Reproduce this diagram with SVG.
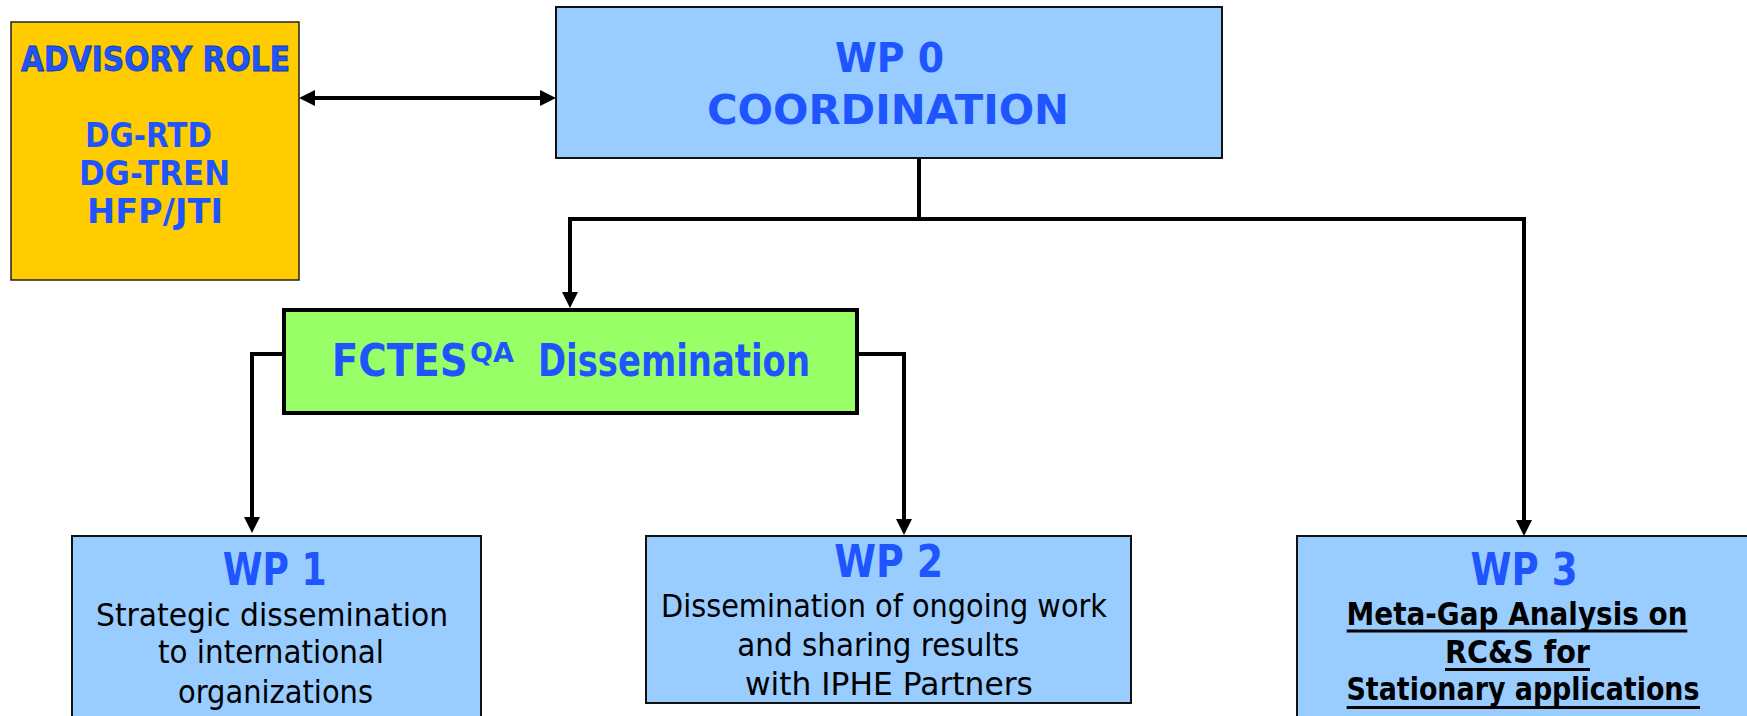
<svg xmlns="http://www.w3.org/2000/svg" width="1747" height="716" viewBox="0 0 1747 716">
<style>
.box{stroke:#111;stroke-width:2}
.blue{fill:#99CCFF}
.t{font-family:"DejaVu Sans","Liberation Sans",sans-serif}
.hb{font-weight:bold;fill:#1F55FF}
.adv{font-weight:bold;fill:#1F55FF;stroke:#1538a8;stroke-width:0.8;font-size:33px}
.body{fill:#000;font-size:32px}
.bb{fill:#000;font-size:32px;font-weight:bold}
.c{fill:none;stroke:#000;stroke-width:4}
.ul{stroke:#000;stroke-width:3}
</style>
<defs>
<marker id="ah" markerUnits="userSpaceOnUse" viewBox="0 0 16 16" markerWidth="16" markerHeight="16" refX="6" refY="8" orient="auto-start-reverse">
<path d="M0,0 L16,8 L0,16 z" fill="#000"/>
</marker>
</defs>
<rect width="1747" height="716" fill="#fff"/>
<g id="connectors">
<path class="c" d="M309,98 H546" marker-start="url(#ah)" marker-end="url(#ah)"/>
<path class="c" d="M919,158 V219"/>
<path class="c" d="M570,219 H1524"/>
<path class="c" d="M570,217 V298" marker-end="url(#ah)"/>
<path class="c" d="M1524,217 V526" marker-end="url(#ah)"/>
<path class="c" d="M283,354 H252 V523" marker-end="url(#ah)"/>
<path class="c" d="M858,354 H904 V525" marker-end="url(#ah)"/>
</g>
<g id="advisory">
<rect x="11" y="22" width="288" height="258" fill="#FFCC00" stroke="#222" stroke-width="1.5"/>
<text class="t adv" x="155.5" y="71" text-anchor="middle" textLength="269" lengthAdjust="spacingAndGlyphs">ADVISORY ROLE</text>
<text class="t hb" font-size="33" x="148.5" y="147" text-anchor="middle" textLength="127" lengthAdjust="spacingAndGlyphs">DG-RTD</text>
<text class="t hb" font-size="33" x="154.5" y="185" text-anchor="middle" textLength="151" lengthAdjust="spacingAndGlyphs">DG-TREN</text>
<text class="t hb" font-size="33" x="155" y="223" text-anchor="middle" textLength="136" lengthAdjust="spacingAndGlyphs">HFP/JTI</text>
</g>
<g id="wp0">
<rect class="box blue" x="556" y="7" width="666" height="151"/>
<text class="t hb" font-size="40" x="889.5" y="72" text-anchor="middle" textLength="109" lengthAdjust="spacingAndGlyphs">WP 0</text>
<text class="t hb" font-size="40" x="888" y="124" text-anchor="middle" textLength="362" lengthAdjust="spacingAndGlyphs">COORDINATION</text>
</g>
<g id="fctes">
<rect x="284" y="310" width="573" height="103" fill="#99FF66" stroke="#000" stroke-width="4"/>
<text class="t hb" font-size="44" x="331.7" y="376" textLength="136" lengthAdjust="spacingAndGlyphs">FCTES</text>
<text class="t hb" font-size="26" x="470" y="362" textLength="44" lengthAdjust="spacingAndGlyphs">QA</text>
<text class="t hb" font-size="44" x="538" y="376" textLength="272" lengthAdjust="spacingAndGlyphs">Dissemination</text>
</g>
<g id="wp1">
<rect class="box blue" x="72" y="536" width="409" height="200"/>
<text class="t hb" font-size="44" x="274.7" y="585" text-anchor="middle" textLength="104" lengthAdjust="spacingAndGlyphs">WP 1</text>
<text class="t body" x="272" y="626" text-anchor="middle" textLength="352" lengthAdjust="spacingAndGlyphs">Strategic dissemination</text>
<text class="t body" x="271" y="663" text-anchor="middle" textLength="226" lengthAdjust="spacingAndGlyphs">to international</text>
<text class="t body" x="275.5" y="702.5" text-anchor="middle" textLength="195" lengthAdjust="spacingAndGlyphs">organizations</text>
</g>
<g id="wp2">
<rect class="box blue" x="646" y="536" width="485" height="167"/>
<text class="t hb" font-size="44" x="888.7" y="577" text-anchor="middle" textLength="109" lengthAdjust="spacingAndGlyphs">WP 2</text>
<text class="t body" x="884" y="616.5" text-anchor="middle" textLength="446" lengthAdjust="spacingAndGlyphs">Dissemination of ongoing work</text>
<text class="t body" x="878.3" y="655.5" text-anchor="middle" textLength="282" lengthAdjust="spacingAndGlyphs">and sharing results</text>
<text class="t body" x="888.9" y="695" text-anchor="middle" textLength="288" lengthAdjust="spacingAndGlyphs">with IPHE Partners</text>
</g>
<g id="wp3">
<rect class="box blue" x="1297" y="536" width="470" height="200"/>
<text class="t hb" font-size="44" x="1524" y="585" text-anchor="middle" textLength="107" lengthAdjust="spacingAndGlyphs">WP 3</text>
<text class="t bb" x="1517" y="625" text-anchor="middle" textLength="341" lengthAdjust="spacingAndGlyphs">Meta-Gap Analysis on</text>
<line class="ul" x1="1346.7" y1="631" x2="1687.3" y2="631"/>
<text class="t bb" x="1517.5" y="663.3" text-anchor="middle" textLength="145" lengthAdjust="spacingAndGlyphs">RC&amp;S for</text>
<line class="ul" x1="1445" y1="669.5" x2="1590" y2="669.5"/>
<text class="t bb" font-size="30" x="1523" y="700" text-anchor="middle" textLength="353" lengthAdjust="spacingAndGlyphs">Stationary applications</text>
<line class="ul" x1="1346.7" y1="707.5" x2="1700" y2="707.5"/>
</g>
</svg>
